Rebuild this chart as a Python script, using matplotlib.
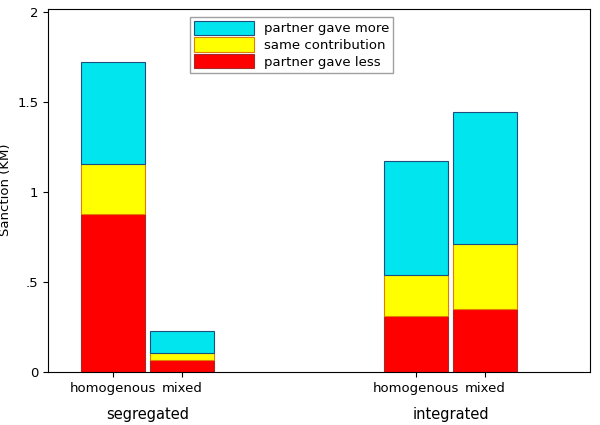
import matplotlib
matplotlib.use("Agg")
import matplotlib.pyplot as plt
import numpy as np

categories = ["homogenous", "mixed", "homogenous", "mixed"]
groups = ["segregated", "integrated"]
less = [0.876, 0.068, 0.311, 0.350]
same = [0.282, 0.039, 0.226, 0.362]
more = [0.565, 0.119, 0.633, 0.734]
yticks = [0, 0.5, 1, 1.5, 2]
yticklabels = ["0", ".5", "1", "1.5", "2"]

fig = plt.figure(figsize=(6, 4.25), dpi=100)
ax = fig.add_axes([0.08, 0.125, 0.903, 0.855])
x = np.array([0, 1, 4.357, 5.357])
w = 0.92
less_a, same_a, more_a = map(np.array, (less, same, more))
ax.bar(x, less_a, w, color="#ff0000", edgecolor="#a52a2a", linewidth=0.8, label="partner gave less")
ax.bar(x, same_a, w, bottom=less_a, color="#ffff00", edgecolor="#e08000", linewidth=0.8, label="same contribution")
ax.bar(x, more_a, w, bottom=less_a + same_a, color="#00e5ee", edgecolor="#1f4f7f", linewidth=0.8, label="partner gave more")
ax.set_xlim(-0.93, 6.86)
ax.set_ylim(0, 2.02)
ax.set_yticks(yticks)
ax.set_yticklabels(yticklabels)
ax.set_xticks(x)
ax.set_xticklabels(categories, fontsize=9.5)
ax.tick_params(axis="y", labelsize=9.5)
ax.set_ylabel("Sanction (KM)", fontsize=9.5, labelpad=4)
ax.text((x[0] + x[1]) / 2, -0.195, groups[0], ha="center", va="top", fontsize=10.5, clip_on=False)
ax.text((x[2] + x[3]) / 2, -0.195, groups[1], ha="center", va="top", fontsize=10.5, clip_on=False)
h, l = ax.get_legend_handles_labels()
ax.legend(h[::-1], l[::-1], loc="upper center", bbox_to_anchor=(0.45, 0.995), frameon=True,
          fancybox=False, edgecolor="#888888", fontsize=9.5, handlelength=4.5, handleheight=1.3,
          labelspacing=0.15, borderpad=0.3)
fig.savefig("out.png", dpi=100)
